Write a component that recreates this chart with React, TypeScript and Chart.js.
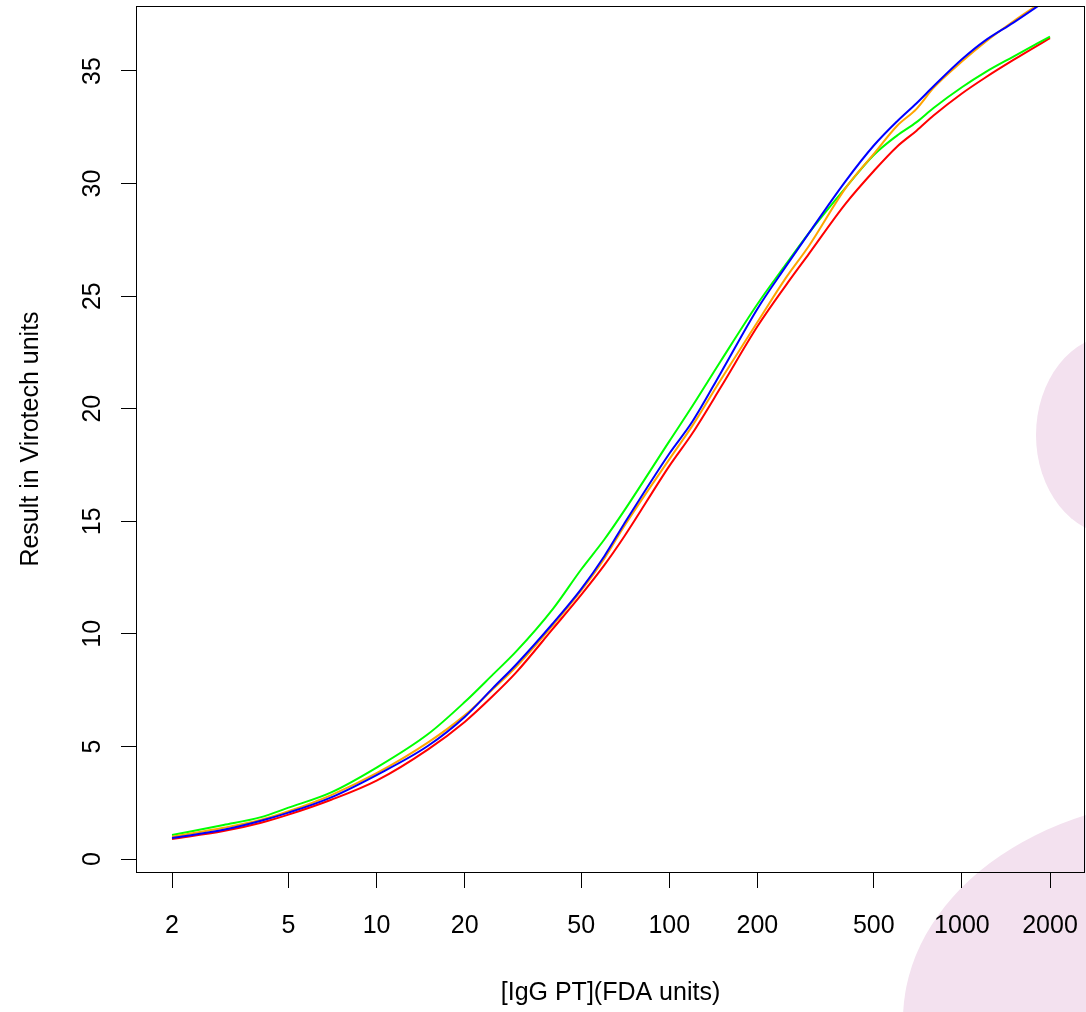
import React, { useEffect, useRef } from "react";
import { Chart, registerables } from "chart.js";

Chart.register(...registerables);

// x: [IgG PT] (FDA units), log scale
const xValues = [2, 3, 4, 5, 7, 10, 15, 20, 25, 30, 40, 50, 60, 70, 100, 120, 150, 200, 250, 300, 400, 500, 600, 700, 800, 1000, 1200, 1500, 2000];

const greenSeries = [1.07, 1.51, 1.85, 2.28, 2.96, 4.06, 5.55, 6.97, 8.2, 9.22, 11.1, 12.86, 14.19, 15.45, 18.55, 20.12, 22.12, 24.64, 26.4, 27.8, 29.81, 31.27, 32.13, 32.73, 33.36, 34.28, 34.94, 35.64, 36.53];
const blueSeries = [0.93, 1.3, 1.69, 2.06, 2.74, 3.73, 5.03, 6.31, 7.6, 8.64, 10.46, 11.99, 13.45, 14.87, 18.0, 19.43, 21.59, 24.43, 26.31, 27.8, 30.1, 31.69, 32.76, 33.57, 34.32, 35.52, 36.35, 37.15, 38.25];
const orangeSeries = [0.99, 1.39, 1.73, 2.12, 2.84, 3.81, 5.18, 6.38, 7.55, 8.54, 10.38, 11.92, 13.34, 14.76, 17.75, 19.25, 21.29, 23.84, 25.8, 27.23, 29.79, 31.32, 32.56, 33.32, 34.25, 35.42, 36.28, 37.21, 38.3];
const redSeries = [0.89, 1.24, 1.6, 1.97, 2.63, 3.48, 4.87, 6.09, 7.25, 8.29, 10.22, 11.73, 13.05, 14.3, 17.45, 18.91, 20.95, 23.65, 25.47, 26.88, 29.1, 30.56, 31.64, 32.35, 33.02, 34.0, 34.7, 35.49, 36.46];

const xTickValues = [2, 5, 10, 20, 50, 100, 200, 500, 1000, 2000];
const yTickValues = [0, 5, 10, 15, 20, 25, 30, 35];

const xTitle = "[IgG PT](FDA units)";
const yTitle = "Result in Virotech units";

const X_MIN = 1.5066;
const X_MAX = 2634;
const Y_MIN = -0.577;
const Y_MAX = 37.887;

const FONT = { family: "'Liberation Sans', Arial, sans-serif", size: 25 };

const backdropPlugin = {
  id: "backdrop",
  beforeDraw(chart: any) {
    const ctx = chart.ctx as CanvasRenderingContext2D;
    ctx.save();
    ctx.fillStyle = "#F3E1EF";
    ctx.beginPath();
    ctx.ellipse(1115, 435, 79, 100, 0, 0, Math.PI * 2);
    ctx.fill();
    ctx.beginPath();
    ctx.ellipse(1200, 1020, 297, 222, 0, 0, Math.PI * 2);
    ctx.fill();
    ctx.restore();
  },
};

const boxPlugin = {
  id: "box",
  afterDraw(chart: any) {
    const { left, top, right, bottom } = chart.chartArea;
    const ctx = chart.ctx as CanvasRenderingContext2D;
    ctx.save();
    ctx.strokeStyle = "#000";
    ctx.lineWidth = 1;
    ctx.strokeRect(left + 0.5, top + 0.5, right - left - 1, bottom - top);
    ctx.restore();
  },
};

const zeroPad = (s: any) => {
  s.paddingLeft = 0;
  s.paddingRight = 0;
  s.paddingTop = 0;
  s.paddingBottom = 0;
};

export default function App() {
  const ref = useRef<HTMLCanvasElement>(null);

  useEffect(() => {
    const canvas = ref.current;
    if (!canvas) return;
    const toPoints = (ys: number[]) => xValues.map((x, i) => ({ x, y: ys[i] }));
    const mk = (label: string, ys: number[], color: string) => ({
      label,
      data: toPoints(ys),
      borderColor: color,
      backgroundColor: color,
      borderWidth: 2,
      pointRadius: 0,
      fill: false,
      clip: 0,
      cubicInterpolationMode: "monotone" as const,
    });

    const chart = new Chart(canvas, {
      type: "line",
      data: {
        datasets: [
          mk("blue", blueSeries, "#0000FF"),
          mk("orange", orangeSeries, "#FFA500"),
          mk("green", greenSeries, "#00FF00"),
          mk("red", redSeries, "#FF0000"),
        ],
      },
      options: {
        animation: false,
        responsive: false,
        devicePixelRatio: 1,
        layout: { padding: { top: 6, right: 1, left: 0, bottom: 0 } },
        plugins: { legend: { display: false }, tooltip: { enabled: false } },
        scales: {
          x: {
            type: "logarithmic",
            min: X_MIN,
            max: X_MAX,
            afterBuildTicks: (s: any) => {
              s.ticks = xTickValues.map((v) => ({ value: v }));
            },
            afterFit: (s: any) => {
              s.height = 140;
              zeroPad(s);
            },
            border: { display: false },
            grid: { drawOnChartArea: false, drawTicks: true, tickLength: 16, color: "#000", lineWidth: 1 },
            ticks: {
              autoSkip: false,
              maxRotation: 0,
              minRotation: 0,
              padding: 23,
              color: "#000",
              font: FONT,
              callback: (v: any) => String(v),
            },
            title: { display: true, text: xTitle, color: "#000", font: FONT, padding: { top: 0, bottom: 4 } },
          },
          y: {
            type: "linear",
            min: Y_MIN,
            max: Y_MAX,
            afterBuildTicks: (s: any) => {
              s.ticks = yTickValues.map((v) => ({ value: v }));
            },
            afterFit: (s: any) => {
              s.width = 136;
              zeroPad(s);
            },
            border: { display: false },
            grid: { drawOnChartArea: false, drawTicks: true, tickLength: 15, color: "#000", lineWidth: 1 },
            ticks: {
              autoSkip: false,
              minRotation: 90,
              maxRotation: 90,
              crossAlign: "center",
              padding: 14,
              color: "#000",
              font: FONT,
              callback: (v: any) => String(v),
            },
            title: { display: true, text: yTitle, color: "#000", font: FONT, padding: { top: 16, bottom: 0 } },
          },
        },
      },
      plugins: [backdropPlugin, boxPlugin],
    } as any);

    return () => chart.destroy();
  }, []);

  return (
    <div style={{ position: "absolute", left: 0, top: 0, width: 1086, height: 1012, background: "#fff" }}>
      <canvas ref={ref} width={1086} height={1012} style={{ display: "block" }} />
    </div>
  );
}
